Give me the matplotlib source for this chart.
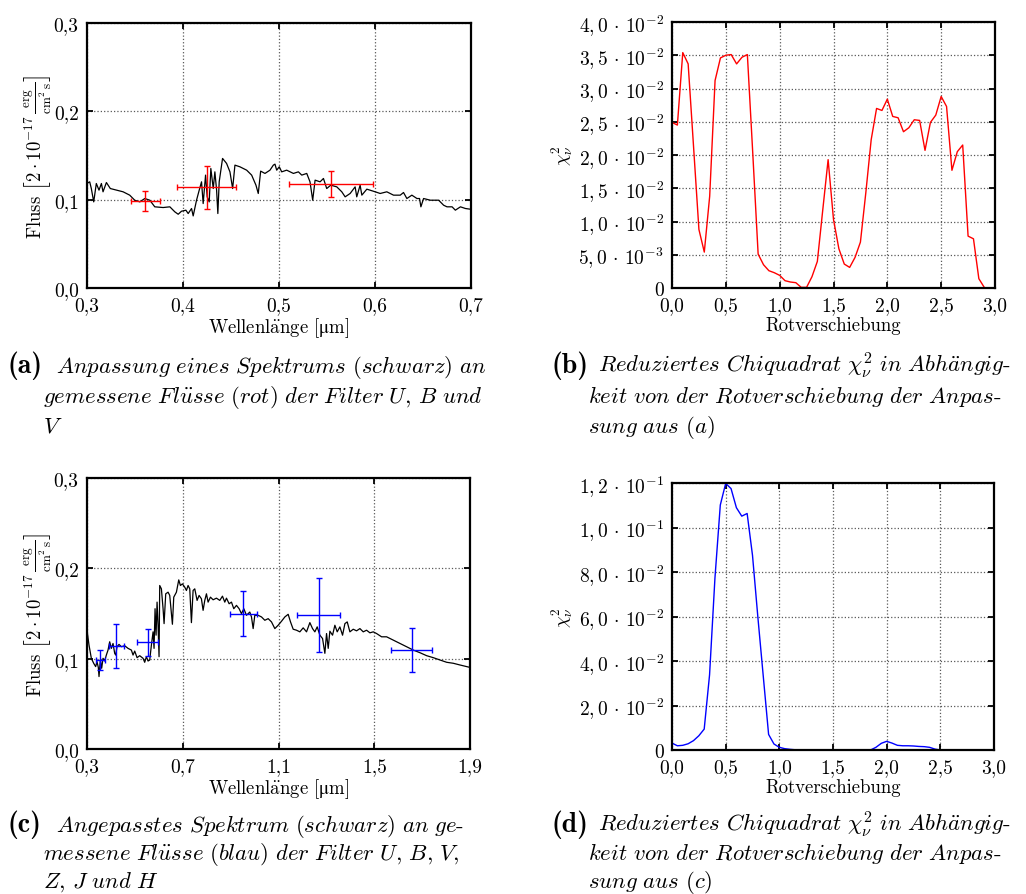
import numpy as np
import matplotlib
matplotlib.use("Agg")
import matplotlib.pyplot as plt

plt.rcParams["font.family"] = ["cmr10", "DejaVu Serif"]
plt.rcParams["mathtext.fontset"] = "cm"
plt.rcParams["axes.formatter.use_mathtext"] = True
plt.rcParams["axes.unicode_minus"] = False
# roman Computer Modern with STIX for glyphs it lacks (used for the unit label)
plt.rcParams["mathtext.rm"] = "cmr10"
plt.rcParams["mathtext.it"] = "cmmi10"
plt.rcParams["mathtext.bf"] = "cmb10"
plt.rcParams["mathtext.fallback"] = "stix"

# ---------------- data ----------------
# (a) fitted spectrum, wavelength in micrometre, flux in 2e-17 erg/(cm^2 s)
spec_a_wl = [0.3000, 0.3028, 0.3045, 0.3070, 0.3097, 0.3125, 0.3150, 0.3167, 0.3202, 0.3243,
             0.3376, 0.3445, 0.3497, 0.3550, 0.3602, 0.3654, 0.3706, 0.3793, 0.3863, 0.3915,
             0.3950, 0.3984, 0.4030, 0.4054, 0.4089, 0.4106, 0.4141, 0.4169, 0.4193, 0.4210,
             0.4235, 0.4252, 0.4273, 0.4290, 0.4315, 0.4332, 0.4350, 0.4363, 0.4377, 0.4412,
             0.4454, 0.4489, 0.4517, 0.4541, 0.4593, 0.4663, 0.4715, 0.4760, 0.4784, 0.4809,
             0.4854, 0.4906, 0.4941, 0.4958, 0.4976, 0.5003, 0.5028, 0.5080, 0.5150, 0.5202,
             0.5237, 0.5289, 0.5323, 0.5351, 0.5376, 0.5428, 0.5463, 0.5497, 0.5539, 0.5602,
             0.5654, 0.5689, 0.5741, 0.5793, 0.5810, 0.5845, 0.5863, 0.5915, 0.6002, 0.6054,
             0.6123, 0.6193, 0.6263, 0.6297, 0.6332, 0.6384, 0.6437, 0.6464, 0.6478, 0.6506,
             0.6576, 0.6663, 0.6715, 0.6750, 0.6803, 0.6837, 0.6890, 0.6942, 0.6993]
spec_a_flux = [0.1183, 0.1202, 0.1126, 0.0975, 0.1183, 0.1108, 0.1183, 0.1089, 0.1194, 0.1126,
               0.1089, 0.1051, 0.0994, 0.0975, 0.1013, 0.0994, 0.0919, 0.0911, 0.0919, 0.0862,
               0.0835, 0.0869, 0.0881, 0.0843, 0.0900, 0.0816, 0.0994, 0.1108, 0.1202, 0.0956,
               0.1278, 0.1032, 0.0975, 0.1353, 0.1126, 0.1315, 0.1108, 0.0843, 0.1202, 0.1467,
               0.1410, 0.1315, 0.1126, 0.1391, 0.1372, 0.1334, 0.1278, 0.1164, 0.1070, 0.1323,
               0.1297, 0.1334, 0.1391, 0.1402, 0.1334, 0.1372, 0.1315, 0.1334, 0.1297, 0.1315,
               0.1278, 0.1297, 0.1202, 0.0994, 0.1221, 0.1202, 0.1240, 0.1126, 0.1164, 0.1145,
               0.1089, 0.1032, 0.1070, 0.1145, 0.1032, 0.1164, 0.1051, 0.1119, 0.1089, 0.1070,
               0.1089, 0.1051, 0.1051, 0.1081, 0.1013, 0.1051, 0.1013, 0.1013, 0.0919, 0.1013,
               0.0994, 0.0994, 0.0937, 0.0919, 0.0919, 0.0881, 0.0919, 0.0900, 0.0892]

# (a) measured fluxes U, B, V
phot_a_wl = [0.3609, 0.4245, 0.5543]
phot_a_flux = [0.0983, 0.1138, 0.1176]
phot_a_xerr = [0.0153, 0.0303, 0.0435]
phot_a_yerr = [0.0113, 0.0248, 0.0148]

# redshift grid of the chi^2 scans
z_grid = [0.00, 0.05, 0.10, 0.15, 0.20, 0.25, 0.30, 0.35, 0.40, 0.45,
          0.50, 0.55, 0.60, 0.65, 0.70, 0.75, 0.80, 0.85, 0.90, 0.95,
          1.00, 1.05, 1.10, 1.15, 1.20, 1.25, 1.30, 1.35, 1.40, 1.45,
          1.50, 1.55, 1.60, 1.65, 1.70, 1.75, 1.80, 1.85, 1.90, 1.95,
          2.00, 2.05, 2.10, 2.15, 2.20, 2.25, 2.30, 2.35, 2.40, 2.45,
          2.50, 2.55, 2.60, 2.65, 2.70, 2.75, 2.80, 2.85, 2.90]

# (b) reduced chi^2 for fit (a)
chi2_b = [0.0249, 0.0245, 0.0354, 0.0337, 0.0213, 0.0088, 0.0054, 0.0138, 0.0312, 0.0346,
          0.0350, 0.0351, 0.0337, 0.0347, 0.0351, 0.0203, 0.0051, 0.0035, 0.0026, 0.0023,
          0.0019, 0.0011, 0.0009, 0.0008, 0.0001, 0.0001, 0.0017, 0.0040, 0.0117, 0.0193,
          0.0103, 0.0059, 0.0036, 0.0031, 0.0046, 0.0069, 0.0143, 0.0223, 0.0270, 0.0267,
          0.0284, 0.0258, 0.0256, 0.0235, 0.0241, 0.0253, 0.0252, 0.0207, 0.0249, 0.0260,
          0.0288, 0.0273, 0.0177, 0.0205, 0.0215, 0.0078, 0.0074, 0.0014, 0.0001]

# (c) fitted spectrum
spec_c_wl = [0.3000, 0.3084, 0.3181, 0.3279, 0.3362, 0.3418, 0.3474, 0.3502, 0.3557, 0.3613,
             0.3669, 0.3739, 0.3808, 0.3878, 0.3948, 0.4017, 0.4087, 0.4157, 0.4199, 0.4254,
             0.4338, 0.4436, 0.4575, 0.4714, 0.4854, 0.4923, 0.4993, 0.5091, 0.5202, 0.5341,
             0.5411, 0.5481, 0.5551, 0.5620, 0.5690, 0.5760, 0.5801, 0.5843, 0.5885, 0.5927,
             0.5969, 0.6010, 0.6038, 0.6108, 0.6178, 0.6220, 0.6289, 0.6387, 0.6456, 0.6568,
             0.6624, 0.6735, 0.6833, 0.6902, 0.6986, 0.7084, 0.7153, 0.7223, 0.7293, 0.7362,
             0.7432, 0.7502, 0.7599, 0.7683, 0.7780, 0.7850, 0.7920, 0.7990, 0.8059, 0.8157,
             0.8268, 0.8408, 0.8547, 0.8659, 0.8756, 0.8826, 0.8937, 0.9035, 0.9132, 0.9244,
             0.9355, 0.9453, 0.9551, 0.9662, 0.9801, 0.9871, 0.9941, 1.0010, 1.0150, 1.0289,
             1.0429, 1.0568, 1.0707, 1.0847, 1.0986, 1.1125, 1.1265, 1.1404, 1.1502, 1.1613,
             1.1753, 1.1892, 1.2031, 1.2171, 1.2310, 1.2422, 1.2519, 1.2617, 1.2728, 1.2840,
             1.2937, 1.3007, 1.3077, 1.3146, 1.3258, 1.3355, 1.3453, 1.3564, 1.3676, 1.3774,
             1.3871, 1.3983, 1.4122, 1.4261, 1.4401, 1.4540, 1.4679, 1.4819, 1.4958, 1.5098,
             1.5307, 1.5516, 1.5794, 1.6073, 1.6352, 1.6631, 1.6909, 1.7188, 1.7467, 1.7746,
             1.8024, 1.8303, 1.8582, 1.8972]
spec_c_flux = [0.1315, 0.1150, 0.1004, 0.0949, 0.0912, 0.0967, 0.0901, 0.0802, 0.0985, 0.0894,
               0.1004, 0.0974, 0.1040, 0.1095, 0.1187, 0.1114, 0.1168, 0.1059, 0.1040, 0.1132,
               0.1158, 0.1132, 0.1143, 0.1114, 0.1095, 0.1040, 0.1084, 0.1011, 0.1033, 0.1004,
               0.0960, 0.1022, 0.0974, 0.0985, 0.1150, 0.1297, 0.1114, 0.1553, 0.1260, 0.1626,
               0.1370, 0.1022, 0.1810, 0.1773, 0.1553, 0.1388, 0.1718, 0.1736, 0.1700, 0.1381,
               0.1681, 0.1736, 0.1872, 0.1810, 0.1828, 0.1791, 0.1755, 0.1810, 0.1773, 0.1399,
               0.1755, 0.1773, 0.1645, 0.1700, 0.1663, 0.1535, 0.1645, 0.1718, 0.1626, 0.1681,
               0.1652, 0.1670, 0.1645, 0.1692, 0.1626, 0.1670, 0.1608, 0.1626, 0.1553, 0.1590,
               0.1553, 0.1498, 0.1553, 0.1480, 0.1516, 0.1462, 0.1333, 0.1480, 0.1480, 0.1462,
               0.1425, 0.1443, 0.1407, 0.1333, 0.1370, 0.1414, 0.1462, 0.1491, 0.1407, 0.1326,
               0.1315, 0.1297, 0.1341, 0.1297, 0.1399, 0.1333, 0.1297, 0.1352, 0.1260, 0.1223,
               0.1059, 0.1278, 0.1114, 0.1304, 0.1260, 0.1370, 0.1297, 0.1352, 0.1260, 0.1388,
               0.1407, 0.1297, 0.1326, 0.1308, 0.1333, 0.1297, 0.1315, 0.1286, 0.1297, 0.1278,
               0.1242, 0.1242, 0.1205, 0.1168, 0.1132, 0.1095, 0.1066, 0.1033, 0.1011, 0.0985,
               0.0960, 0.0949, 0.0930, 0.0905]

# (c) measured fluxes U, B, V, Z, J, H
phot_c_wl = [0.3557, 0.4226, 0.5537, 0.9537, 1.2672, 1.6560]
phot_c_flux = [0.0985, 0.1139, 0.1179, 0.1498, 0.1487, 0.1099]
phot_c_xerr = [0.0190, 0.0310, 0.0446, 0.0557, 0.0880, 0.0850]
phot_c_yerr = [0.0114, 0.0244, 0.0147, 0.0249, 0.0408, 0.0244]

# (d) reduced chi^2 for fit (c)
chi2_d = [0.0031, 0.0019, 0.0021, 0.0028, 0.0042, 0.0064, 0.0094, 0.0338, 0.0772, 0.1101,
          0.1198, 0.1175, 0.1089, 0.1051, 0.1063, 0.0875, 0.0597, 0.0333, 0.0070, 0.0027,
          0.0012, 0.0006, 0.0003, 0.0001, 0.0000, 0.0000, 0.0000, 0.0000, 0.0000, 0.0000,
          0.0000, 0.0000, 0.0000, 0.0000, 0.0000, 0.0000, 0.0000, 0.0000, 0.0012, 0.0030,
          0.0039, 0.0031, 0.0021, 0.0019, 0.0019, 0.0018, 0.0016, 0.0015, 0.0012, 0.0004,
          0.0000, 0.0000, 0.0000, 0.0000, 0.0000, 0.0000, 0.0000, 0.0000, 0.0000]

# tick positions and labels
wl_ticks_a = [0.3, 0.4, 0.5, 0.6, 0.7]
wl_labels_a = ["0,3", "0,4", "0,5", "0,6", "0,7"]
wl_ticks_c = [0.3, 0.7, 1.1, 1.5, 1.9]
wl_labels_c = ["0,3", "0,7", "1,1", "1,5", "1,9"]
flux_ticks = [0.0, 0.1, 0.2, 0.3]
flux_labels = ["0,0", "0,1", "0,2", "0,3"]
z_ticks = [0.0, 0.5, 1.0, 1.5, 2.0, 2.5, 3.0]
z_labels = ["0,0", "0,5", "1,0", "1,5", "2,0", "2,5", "3,0"]
chi_ticks_b = [0.0, 0.005, 0.010, 0.015, 0.020, 0.025, 0.030, 0.035, 0.040]
chi_mant_b = ["5,0", "1,0", "1,5", "2,0", "2,5", "3,0", "3,5", "4,0"]
chi_exp_b = [-3, -2, -2, -2, -2, -2, -2, -2]
chi_ticks_d = [0.0, 0.02, 0.04, 0.06, 0.08, 0.10, 0.12]
chi_mant_d = ["2,0", "4,0", "6,0", "8,0", "1,0", "1,2"]
chi_exp_d = [-2, -2, -2, -2, -1, -1]


def sci_labels(mant, exps):
    out = ["0"]
    for m, e in zip(mant, exps):
        a, b = m.split(",")
        out.append(r"$%s,%s\,\cdot\,10^{%d}$" % (a, b, e))
    return out


# ---------------- figure ----------------
W, H = 1026, 895
fig = plt.figure(figsize=(W / 100, H / 100), dpi=100)
fig.patch.set_facecolor("white")

TFS = 14     # tick labels
LFS = 13.5   # axis labels
flux_label = r"Fluss $\left[2\cdot10^{-17}\,\frac{\mathrm{erg}}{\mathrm{cm}^2\,\mathrm{s}}\right]$"
wl_label = r"Wellenl$\ddot{\mathrm{a}}$nge [$\mathrm{\mu}$m]"


def add_ax(l, t, r, b):
    return fig.add_axes([l / W, 1 - b / H, (r - l) / W, (b - t) / H])


def style(ax, xt, xl, yt, yl, xlim, ylim):
    ax.set_xlim(*xlim)
    ax.set_ylim(*ylim)
    ax.set_xticks(xt)
    ax.set_xticklabels(xl, fontsize=TFS)
    ax.set_yticks(yt)
    ax.set_yticklabels(yl, fontsize=TFS)
    ax.tick_params(direction="in", length=4, width=1.3, top=True, right=True, pad=6)
    ax.grid(True, linestyle=":", color="0.35", linewidth=0.9)
    for sp in ax.spines.values():
        sp.set_linewidth(1.6)


def place_ylabel(ax, right_px, left_px, width_px):
    ax.yaxis.set_label_coords((right_px - left_px) / width_px, 0.5)


axA = add_ax(87, 24, 471, 289)
axB = add_ax(672, 23, 995, 289)
axC = add_ax(87, 479, 470, 750)
axD = add_ax(672, 484, 994, 751)

# (a)
axA.plot(spec_a_wl, spec_a_flux, color="black", lw=0.9)
axA.errorbar(phot_a_wl, phot_a_flux, xerr=phot_a_xerr, yerr=phot_a_yerr, fmt="none",
             ecolor="red", elinewidth=1.0, capsize=2.5, capthick=1.0)
style(axA, wl_ticks_a, wl_labels_a, flux_ticks, flux_labels, (0.3, 0.7), (0, 0.3))
axA.set_xlabel(wl_label, fontsize=LFS, labelpad=1, math_fontfamily="custom")
axA.set_ylabel(flux_label, fontsize=LFS)
place_ylabel(axA, 54, 87, 384)

# (b)
axB.plot(z_grid, chi2_b, color="red", lw=1.0)
style(axB, z_ticks, z_labels, chi_ticks_b, sci_labels(chi_mant_b, chi_exp_b), (0, 3), (0, 0.04))
axB.set_xlabel("Rotverschiebung", fontsize=LFS, labelpad=1)
axB.set_ylabel(r"$\chi^2_\nu$", fontsize=LFS)
place_ylabel(axB, 575, 672, 323)

# (c)
axC.plot(spec_c_wl, spec_c_flux, color="black", lw=0.9)
axC.errorbar(phot_c_wl, phot_c_flux, xerr=phot_c_xerr, yerr=phot_c_yerr, fmt="none",
             ecolor="blue", elinewidth=1.0, capsize=2.5, capthick=1.0)
style(axC, wl_ticks_c, wl_labels_c, flux_ticks, flux_labels, (0.3, 1.9), (0, 0.3))
axC.set_xlabel(wl_label, fontsize=LFS, labelpad=1, math_fontfamily="custom")
axC.set_ylabel(flux_label, fontsize=LFS)
place_ylabel(axC, 54, 87, 383)

# (d)
axD.plot(z_grid, chi2_d, color="blue", lw=1.0)
style(axD, z_ticks, z_labels, chi_ticks_d, sci_labels(chi_mant_d, chi_exp_d), (0, 3), (0, 0.12))
axD.set_xlabel("Rotverschiebung", fontsize=LFS, labelpad=1)
axD.set_ylabel(r"$\chi^2_\nu$", fontsize=LFS)
place_ylabel(axD, 575, 672, 322)

# ---------------- captions ----------------
CFS = 16.4


def caption(x_label, x_body, x_hang, y0, dy, tag, lines):
    fig.text(x_label / W, 1 - y0 / H, "(%s)" % tag, fontsize=20, family="cmb10",
             va="baseline", ha="left")
    for i, line in enumerate(lines):
        x = x_body if i == 0 else x_hang
        fig.text(x / W, 1 - (y0 + i * dy) / H, line, fontsize=CFS, va="baseline", ha="left")


caption(7, 56, 43, 373, 30, "a", [
    r"$\mathit{Anpassung\ eines\ Spektrums\ (schwarz)\ an}$",
    r"$\mathit{gemessene\ Fl\ddot{u}sse\ (rot)\ der\ Filter\ U,\,B\ und}$",
    r"$\mathit{V}$",
])
caption(552, 598, 588, 373, 30, "b", [
    r"$\mathit{Reduziertes\ Chiquadrat\ \chi^2_\nu\ in\ Abh\ddot{a}ngig}$-",
    r"$\mathit{keit\ von\ der\ Rotverschiebung\ der\ Anpas}$-",
    r"$\mathit{sung\ aus\ (a)}$",
])
caption(7, 56, 43, 832, 28, "c", [
    r"$\mathit{Angepasstes\ Spektrum\ (schwarz)\ an\ ge}$-",
    r"$\mathit{messene\ Fl\ddot{u}sse\ (blau)\ der\ Filter\ U,\,B,\,V,}$",
    r"$\mathit{Z,\,J\ und\ H}$",
])
caption(552, 598, 588, 832, 28, "d", [
    r"$\mathit{Reduziertes\ Chiquadrat\ \chi^2_\nu\ in\ Abh\ddot{a}ngig}$-",
    r"$\mathit{keit\ von\ der\ Rotverschiebung\ der\ Anpas}$-",
    r"$\mathit{sung\ aus\ (c)}$",
])

fig.savefig("out.png", dpi=100)
